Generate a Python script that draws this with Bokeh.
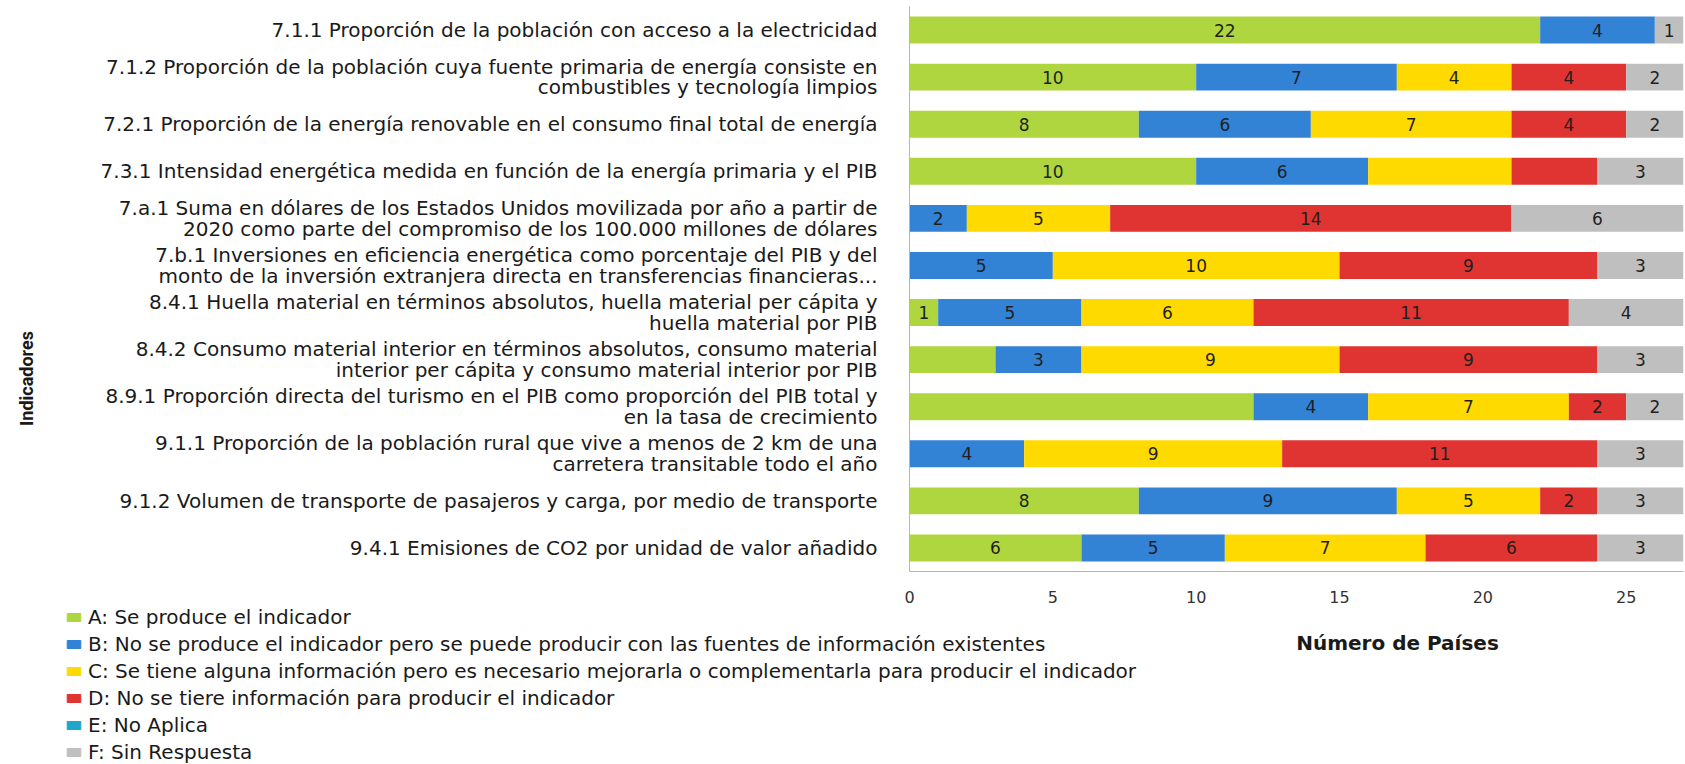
import math
from bokeh.plotting import figure
from bokeh.layouts import column, row
from bokeh.models import (ColumnDataSource, FactorRange, Legend, LegendItem, Label,
                          FixedTicker, Range1d)
from bokeh.core.properties import value
from bokeh.embed import file_html
from bokeh.resources import INLINE

categories = [
    "7.1.1 Proporción de la población con acceso a la electricidad",
    "7.1.2 Proporción de la población cuya fuente primaria de energía consiste en\ncombustibles y tecnología limpios",
    "7.2.1 Proporción de la energía renovable en el consumo final total de energía",
    "7.3.1 Intensidad energética medida en función de la energía primaria y el PIB",
    "7.a.1 Suma en dólares de los Estados Unidos movilizada por año a partir de\n2020 como parte del compromiso de los 100.000 millones de dólares",
    "7.b.1 Inversiones en eficiencia energética como porcentaje del PIB y del\nmonto de la inversión extranjera directa en transferencias financieras...",
    "8.4.1 Huella material en términos absolutos, huella material per cápita y\nhuella material por PIB",
    "8.4.2 Consumo material interior en términos absolutos, consumo material\ninterior per cápita y consumo material interior por PIB",
    "8.9.1 Proporción directa del turismo en el PIB como proporción del PIB total y\nen la tasa de crecimiento",
    "9.1.1 Proporción de la población rural que vive a menos de 2 km de una\ncarretera transitable todo el año",
    "9.1.2 Volumen de transporte de pasajeros y carga, por medio de transporte",
    "9.4.1 Emisiones de CO2 por unidad de valor añadido",
]

A = [22, 10, 8, 10, 0, 0, 1, 3, 12, 0, 8, 6]
B = [4, 7, 6, 6, 2, 5, 5, 3, 4, 4, 9, 5]
C = [0, 4, 7, 5, 5, 10, 6, 9, 7, 9, 5, 7]
D = [0, 4, 4, 3, 14, 9, 11, 9, 2, 11, 2, 6]
E = [0, 0, 0, 0, 0, 0, 0, 0, 0, 0, 0, 0]
F = [1, 2, 2, 3, 6, 3, 4, 3, 2, 3, 3, 3]

series_keys = ["A", "B", "C", "D", "E", "F"]
series_names = [
    "A: Se produce el indicador",
    "B: No se produce el indicador pero se puede producir con las fuentes de información existentes",
    "C: Se tiene alguna información pero es necesario mejorarla o complementarla para producir el indicador",
    "D: No se tiere información para producir el indicador",
    "E: No Aplica",
    "F: Sin Respuesta",
]
colors = ["#AFD63F", "#3282D6", "#FFDA00", "#DF3431", "#20A6C8", "#BFBFBF"]

# segments whose value label is not shown in the original chart
unlabeled = [(3, "C"), (3, "D"), (7, "A"), (8, "A")]

x_ticks = [0, 5, 10, 15, 20, 25]
x_title = "Número de Países"
y_title = "Indicadores"

data = dict(cat=categories, A=A, B=B, C=C, D=D, E=E, F=F)
source = ColumnDataSource(data)

FONT = "DejaVu Sans"
W = 1685
H1 = 605
H2 = 764 - H1
WL = 50          # narrow strip holding the y-axis title
FRAME_TOP, FRAME_BOTTOM, FRAME_LEFT = 6, 574, 909


def no_align(fig):
    if "frame_align" in fig.properties():
        fig.frame_align = False


# ---- main bar chart ----
p = figure(
    width=W - WL, height=H1,
    y_range=FactorRange(factors=list(reversed(categories))),
    x_range=Range1d(0, 27),
    output_backend="svg", toolbar_location=None,
    min_border_left=FRAME_LEFT - WL, min_border_right=2,
    min_border_top=FRAME_TOP, min_border_bottom=H1 - FRAME_BOTTOM,
)
p.outline_line_color = None
p.grid.visible = False

renderers = p.hbar_stack(series_keys, y="cat", height=0.57, color=colors,
                         line_color=None, source=source)

lx, ly, lt = [], [], []
for i, cat in enumerate(categories):
    left = 0
    for key in series_keys:
        v = data[key][i]
        if v > 0 and (i, key) not in unlabeled:
            lx.append(left + v / 2)
            ly.append(cat)
            lt.append(str(v))
        left += v
p.text(x=lx, y=ly, text=lt, text_align="center", text_baseline="middle",
       text_font=value(FONT), text_font_size="17px", text_color="#1F1F1F")

p.xaxis.ticker = FixedTicker(ticks=x_ticks)
p.xaxis.major_tick_line_color = None
p.xaxis.minor_tick_line_color = None
p.xaxis.axis_line_color = "#B5B5B5"
p.xaxis.major_label_standoff = 13
p.xaxis.major_label_text_font = FONT
p.xaxis.major_label_text_font_size = "16px"
p.xaxis.major_label_text_color = "#333333"

p.yaxis.major_tick_line_color = None
p.yaxis.minor_tick_line_color = None
p.yaxis.axis_line_color = "#B5B5B5"
p.yaxis.major_label_standoff = 26
p.yaxis.major_label_text_font = FONT
p.yaxis.major_label_text_font_size = "20px"
p.yaxis.major_label_text_line_height = 0.86
p.yaxis.major_label_text_color = "#1A1A1A"

# ---- left strip with the y-axis title ----
r = figure(width=WL, height=H1, x_range=Range1d(0, 1), y_range=Range1d(0, 1),
           x_axis_location=None, y_axis_location=None,
           output_backend="svg", toolbar_location=None,
           min_border_left=0, min_border_right=0,
           min_border_top=FRAME_TOP, min_border_bottom=H1 - FRAME_BOTTOM)
r.outline_line_color = None
r.grid.visible = False
r.add_layout(Label(x=26, y=FRAME_BOTTOM - 378, x_units="screen", y_units="screen",
                   text=y_title, angle=math.pi / 2, text_align="center",
                   text_baseline="middle", text_font="Roboto", text_font_size="18px",
                   text_font_style="bold", text_color="#1A1A1A"))

# ---- lower strip: legend and x-axis title ----
q = figure(width=W, height=H2, x_range=Range1d(0, 1), y_range=Range1d(0, 1),
           x_axis_location=None, y_axis_location=None,
           output_backend="svg", toolbar_location=None,
           min_border_left=0, min_border_right=0, min_border_top=0, min_border_bottom=0)
q.outline_line_color = None
q.grid.visible = False

nan = float("nan")
swatches = [q.rect(x=[nan], y=[nan], width=1, height=1, color=c) for c in colors]
legend = Legend(
    items=[LegendItem(label=n, renderers=[s]) for n, s in zip(series_names, swatches)],
    location=(65, H2 - 159), orientation="vertical",
    glyph_width=17, glyph_height=10, label_height=24, spacing=3, label_standoff=6,
    padding=0, margin=0, border_line_color=None, background_fill_alpha=0,
    label_text_font=FONT, label_text_font_size="20px", label_text_color="#1A1A1A",
)
q.add_layout(legend)
q.add_layout(Label(x=1397, y=H2 - (642 - H1), x_units="screen", y_units="screen",
                   text=x_title, text_align="center", text_baseline="middle",
                   text_font=FONT, text_font_size="20px", text_font_style="bold",
                   text_color="#1A1A1A"))

for fig in (p, q, r):
    no_align(fig)

layout = column(row(r, p, spacing=0), q, spacing=0)
open("out.html", "w").write(file_html(layout, INLINE))
